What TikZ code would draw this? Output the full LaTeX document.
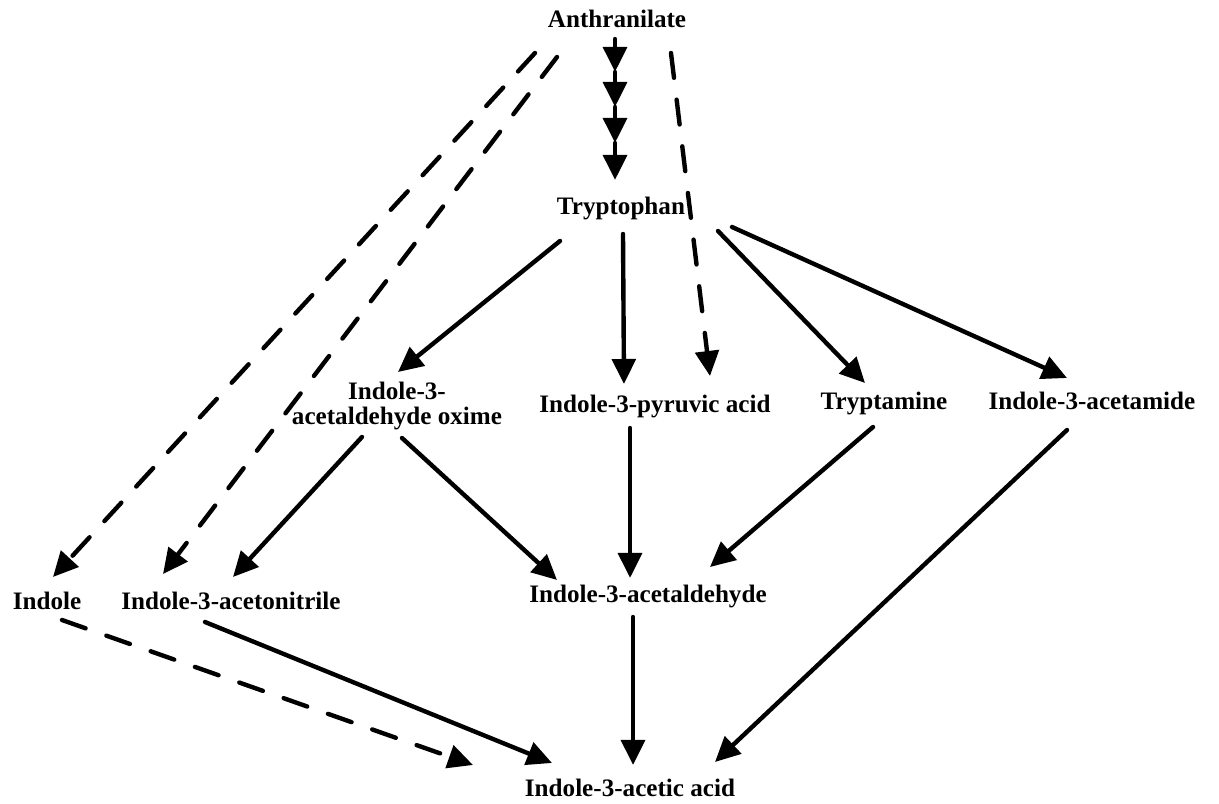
\documentclass[tikz,border=0pt]{standalone}
\usepackage{fontspec}
\setmainfont{Liberation Serif}
\usetikzlibrary{arrows.meta}

\begin{document}
\begin{tikzpicture}[x=0.2mm, y=-0.2mm,
    every node/.style={font=\bfseries\fontsize{14.3}{14.5}\selectfont, inner sep=0pt},
    arr/.style={line width=2.5pt, line cap=round, -{Triangle[length=5mm, width=4.7mm]}},
    darr/.style={arr, dash pattern=on 5mm off 4.4mm}]
  \useasboundingbox (0,0) rectangle (1219,804); % page frame

  % Compounds (placed at their baselines)
  \node[anchor=base] (anth) at (617,28) {Anthranilate};
  \node[anchor=base] (tryp) at (621,215) {Tryptophan};
  \node[align=center] (oxime) at (397,406) {Indole-3-\\acetaldehyde oxime};
  \node[anchor=base] (pyr) at (655,413) {Indole-3-pyruvic acid};
  \node[anchor=base] (tam) at (884,410) {Tryptamine};
  \node[anchor=base] (iam) at (1092,410) {Indole-3-acetamide};
  \node[anchor=base] (ind) at (47,610) {Indole};
  \node[anchor=base] (ian) at (231,610) {Indole-3-acetonitrile};
  \node[anchor=base] (iald) at (648,603) {Indole-3-acetaldehyde};
  \node[anchor=base] (iaa) at (630,797) {Indole-3-acetic acid};

  % Several steps from anthranilate to tryptophan
  \coordinate (s1) at (615,72);
  \coordinate (s2) at (615,107);
  \coordinate (s3) at (615,143);
  \draw[arr] ([shift={(-2,11)}]anth.base) -- (s1);
  \foreach \a/\b in {s1/s2, s2/s3} {
    \draw[arr] (\a) -- (\b); % next step
  }
  \draw[arr] (s3) -- ([shift={(-6,-35)}]tryp.base);

  % Tryptophan-independent routes (dashed)
  \draw[darr] ([shift={(-82,25)}]anth.base) -- ([shift={(6,-33)}]ind.base);
  \draw[darr] ([shift={(-60,29)}]anth.base) -- ([shift={(-68,-36)}]ian.base);
  \draw[darr] ([shift={(54,25)}]anth.base) -- ([shift={(55,-37)}]pyr.base);

  % From tryptophan
  \draw[arr] ([shift={(-61,26)}]tryp.base) -- ([shift={(1,-34)}]oxime.center);
  \draw[arr] ([shift={(2,19)}]tryp.base) -- ([shift={(-31,-29)}]pyr.base);
  \draw[arr] ([shift={(97,16)}]tryp.base) -- ([shift={(-19,-27)}]tam.base);
  \draw[arr] ([shift={(111,12)}]tryp.base) -- ([shift={(-25,-32)}]iam.base);

  % Intermediates
  \draw[arr] ([shift={(-35,31)}]oxime.center) -- ([shift={(2,-33)}]ian.base);
  \draw[arr] ([shift={(5,32)}]oxime.center) -- ([shift={(-91,-23)}]iald.base);
  \draw[arr] ([shift={(-25,15)}]pyr.base) -- ([shift={(-18,-25)}]iald.base);
  \draw[arr] ([shift={(-11,17)}]tam.base) -- ([shift={(62,-36)}]iald.base);

  % To indole-3-acetic acid
  \draw[darr] ([shift={(15,10)}]ind.base) -- ([shift={(-157,-32)}]iaa.base);
  \draw[arr] ([shift={(-26,12)}]ian.base) -- ([shift={(-78,-34)}]iaa.base);
  \draw[arr] ([shift={(-15,14)}]iald.base) -- ([shift={(3,-32)}]iaa.base);
  \draw[arr] ([shift={(-25,20)}]iam.base) -- ([shift={(85,-35)}]iaa.base);
\end{tikzpicture}
\end{document}
